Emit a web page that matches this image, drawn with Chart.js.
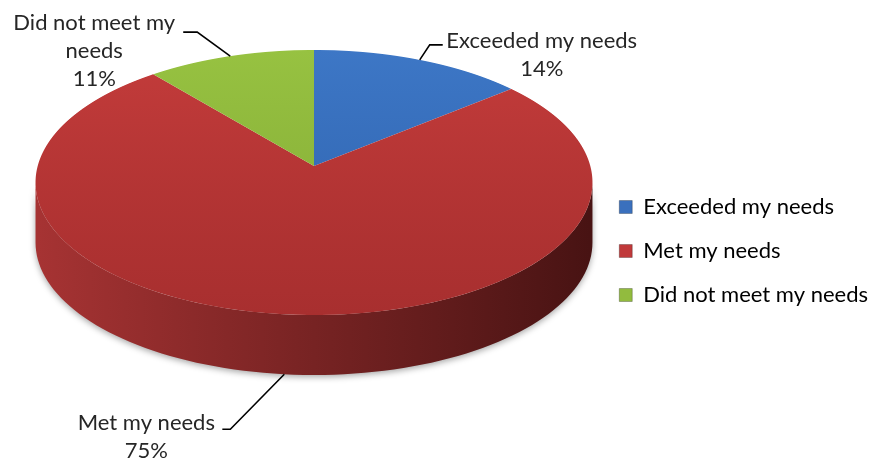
<!DOCTYPE html>
<html>
<head>
<meta charset="utf-8">
<script src="https://cdn.jsdelivr.net/npm/chart.js@4"></script>
<style>
  html, body { margin: 0; padding: 0; background: #fff; }
  #pieChart { display: block; }
</style>
</head>
<body>
<canvas id="pieChart" width="873" height="459"></canvas>
<script>
// data
const categories = ['Exceeded my needs', 'Met my needs', 'Did not meet my needs'];
const percentValues = [14, 75, 11];
const labelLines = [['Exceeded my needs', '14%'], ['Met my needs', '75%'], ['Did not meet my', 'needs', '11%']];

// colours: top face (light, dark) and side wall (left, right)
const topColors = [['#3d77c6', '#2f63ae'], ['#c43c3b', '#a82f2f'], ['#97c241', '#84ab36']];
const sideColors = [['#2c5a99', '#173059'], ['#a63333', '#481313'], ['#76982f', '#3e5118']];
const legendColors = ['#3a70bd', '#c0393a', '#92bb3e'];

// perspective of the tilted pie: x' = cx + S*u/(1+b*v), y' = (p*v+q)/(1+b*v)
const PERSP = { cx: 314, S: 276.3, p: 109.8, q: 166, b: -0.1245, depth: 60 };
const FONT = "Lato, 'Open Sans', sans-serif";

// label leader lines: offsets from the anchor point on the slice edge
const leaderOffsets = [
    { elbow: [10, -15], end: [23, -15], text: [122, -19] },
    { elbow: [-54, 55], end: [-62, 55], text: [-138, 49] },
    { elbow: [-33, -24], end: [-47, -24], text: [-136, -33] }
];

function project(u, v) {
    const d = 1 + PERSP.b * v;
    return [PERSP.cx + PERSP.S * u / d, (PERSP.p * v + PERSP.q) / d];
}
function vAtScreenY(y) {
    return (PERSP.q - y) / (PERSP.b * y - PERSP.p);
}

function vGrad(ctx, area, pair) {
    const g = ctx.createLinearGradient(0, area.top, 0, area.bottom);
    g.addColorStop(0, pair[0]);
    g.addColorStop(1, pair[1]);
    return g;
}

const pie3d = {
    id: 'pie3d',
    beforeDatasetsDraw(chart) {
        const ctx = chart.ctx;
        const arcs = chart.getDatasetMeta(0).data;
        if (!arcs.length) return;
        const { cx, S, b, depth } = PERSP;

        // side wall, visible part between the two silhouette points
        const thS = Math.asin(-b);
        ctx.save();
        ctx.shadowColor = 'rgba(0,0,0,0.35)';
        ctx.shadowBlur = 6;
        ctx.shadowOffsetY = 2;
        arcs.forEach((arc, i) => {
            const a1 = Math.max(arc.startAngle, thS);
            const a2 = Math.min(arc.endAngle, Math.PI - thS);
            if (a1 >= a2) return;
            const pts = [];
            for (let k = 0; k <= 90; k++) {
                const th = a1 + (a2 - a1) * k / 90;
                pts.push(project(Math.cos(th), Math.sin(th)));
            }
            const g = ctx.createLinearGradient(cx - S, 0, cx + S, 0);
            g.addColorStop(0, sideColors[i][0]);
            g.addColorStop(1, sideColors[i][1]);
            ctx.beginPath();
            pts.forEach((pt, k) => k ? ctx.lineTo(pt[0], pt[1]) : ctx.moveTo(pt[0], pt[1]));
            for (let k = pts.length - 1; k >= 0; k--) ctx.lineTo(pts[k][0], pts[k][1] + depth);
            ctx.closePath();
            ctx.fillStyle = g;
            ctx.fill();
        });
        ctx.restore();

        // top face: draw the library's arcs row by row through the perspective
        const R = arcs[0].outerRadius, px = arcs[0].x, py = arcs[0].y;
        const yTop = Math.floor(project(0, -1)[1]) - 1;
        const yBot = Math.ceil(project(0, 1)[1]) + 1;
        for (let Y = yTop; Y < yBot; Y++) {
            const v0 = vAtScreenY(Y), v1 = vAtScreenY(Y + 1);
            const vm = (v0 + v1) / 2;
            const sx = S / (1 + b * vm) / R;
            const sy = 1 / ((v1 - v0) * R);
            ctx.save();
            ctx.beginPath();
            ctx.rect(0, Y, chart.width, 1);
            ctx.clip();
            ctx.setTransform(sx, 0, 0, sy, cx - sx * px, Y - sy * (py + v0 * R));
            arcs.forEach(a => a.draw(ctx));
            ctx.restore();
        }
        return false;
    },
    afterDraw(chart) {
        const ctx = chart.ctx;
        const arcs = chart.getDatasetMeta(0).data;
        ctx.save();
        ctx.font = '22px ' + FONT;
        ctx.fillStyle = '#262626';
        ctx.strokeStyle = '#000';
        ctx.lineWidth = 1.6;
        ctx.textBaseline = 'middle';
        ctx.textAlign = 'center';
        arcs.forEach((arc, i) => {
            const mid = (arc.startAngle + arc.endAngle) / 2;
            let [ax, ay] = project(Math.cos(mid), Math.sin(mid));
            if (Math.sin(mid) > 0.5) ay += PERSP.depth;
            const o = leaderOffsets[i];
            ctx.beginPath();
            ctx.moveTo(ax, ay);
            ctx.lineTo(ax + o.elbow[0], ay + o.elbow[1]);
            ctx.lineTo(ax + o.end[0], ay + o.end[1]);
            ctx.stroke();
            labelLines[i].forEach((line, k) => {
                ctx.fillText(line, ax + o.text[0], ay + o.text[1] + k * 28);
            });
        });
        ctx.restore();
    }
};

new Chart(document.getElementById('pieChart').getContext('2d'), {
    type: 'pie',
    data: {
        labels: categories,
        datasets: [{
            data: percentValues,
            backgroundColor: (c) => vGrad(c.chart.ctx, c.chart.chartArea || { top: 0, bottom: 459 }, topColors[c.dataIndex]),
            borderWidth: 0
        }]
    },
    options: {
        responsive: false,
        devicePixelRatio: 1,
        animation: false,
        events: [],
        layout: { padding: { top: 43, right: -5 } },
        plugins: {
            tooltip: { enabled: false },
            legend: {
                position: 'right',
                labels: {
                    boxWidth: 13,
                    boxHeight: 13,
                    padding: 22,
                    color: '#262626',
                    font: { family: FONT, size: 22 },
                    generateLabels: (chart) => categories.map((name, i) => ({
                        text: name,
                        fillStyle: legendColors[i],
                        strokeStyle: 'rgba(0,0,0,0.25)',
                        lineWidth: 1,
                        index: i
                    }))
                }
            }
        }
    },
    plugins: [pie3d]
});
</script>
</body>
</html>
